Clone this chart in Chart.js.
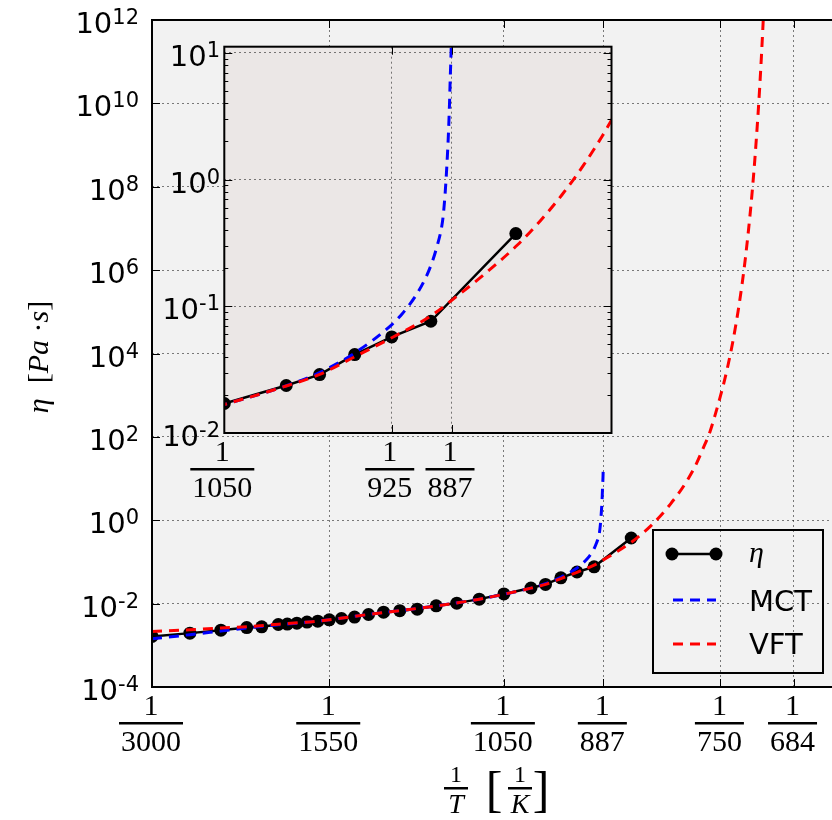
<!DOCTYPE html>
<html>
<head>
<meta charset="utf-8">
<script src="https://cdn.jsdelivr.net/npm/chart.js@4"></script>
<style>
html, body { margin: 0; padding: 0; background: #fff; overflow: hidden; }
#wrap { position: relative; width: 832px; height: 820px; overflow: hidden; }
#main { position: absolute; left: 0; top: 0; }
#inset { position: absolute; left: 130px; top: 30px; }
</style>
</head>
<body>
<div id="wrap">
  <canvas id="main" width="850" height="820"></canvas>
  <canvas id="inset" width="500" height="480"></canvas>
</div>
<script>
'use strict';

// measured viscosity, temperatures in K
const temps = [3000, 2500, 2200, 2000, 1900, 1800, 1750, 1700, 1650, 1600, 1550, 1500, 1450, 1400,
    1350, 1300, 1250, 1200, 1150, 1100, 1050, 1000, 975, 950, 925, 900, 850];
const eta = [0.00163, 0.00196, 0.00231, 0.00267, 0.00278, 0.00316, 0.00323, 0.0034, 0.0036, 0.0038,
    0.00409, 0.0044, 0.00475, 0.00548, 0.00625, 0.00679, 0.00738, 0.00885, 0.01028, 0.01282,
    0.0171, 0.0237, 0.0289, 0.0416, 0.0573, 0.0762, 0.375];

// MCT fit
const mctT = [3000, 2500, 2200, 2000, 1800, 1600, 1400, 1300, 1200, 1100, 1050, 1000, 975, 950,
    924.9, 918.4, 909.9, 903.5, 899.3, 896.2, 893.2, 892.2, 891.1, 890.1, 889.1, 888.5, 888.1,
    887.5, 887.2];
const mctEta = [0.00143, 0.0018, 0.0022, 0.0026, 0.0031, 0.0038, 0.0055, 0.0068, 0.0088, 0.0128,
    0.0168, 0.0236, 0.030, 0.0428, 0.0718, 0.0867, 0.119, 0.165, 0.221, 0.296, 0.430, 0.540,
    0.80, 1.3, 2.4, 4.0, 6.1, 10.7, 16];

// VFT fit
const vftT = [3000, 2500, 2200, 2000, 1800, 1600, 1400, 1300, 1200, 1100, 1050, 1000, 975, 950,
    925, 900, 887, 869, 849, 836.7, 825.2, 814, 804.7, 800.3, 796.1, 785.1, 776.2, 767.5, 760.7,
    755.6, 750.6, 747.4, 742.5, 737.7, 732.9, 729.2, 726, 722, 719.6, 717.5, 714.5, 713, 711.5,
    710, 709];
const vftEta = [0.00215, 0.00235, 0.0026, 0.0028, 0.0032, 0.0038, 0.0055, 0.0068, 0.0088, 0.0128,
    0.0168, 0.0235, 0.029, 0.040, 0.0565, 0.084, 0.112, 0.174, 0.306, 0.472, 0.756, 1.30, 2.19,
    2.89, 3.75, 8.5, 19, 53, 128, 315, 841, 1640, 5300, 2.04e4, 1.03e5, 4.5e5, 2.0e6, 1.84e7,
    8.8e7, 4.2e8, 5.6e9, 2.5e10, 1.33e11, 8.5e11, 3.3e12];

// tick labels (temperatures shown as 1/T) and powers of ten
const mainXTicks = [3000, 1550, 1050, 887, 750, 684];
const mainYTicks = [-4, -2, 0, 2, 4, 6, 8, 10, 12];
const insetXTicks = [1050, 925, 887];
const insetYTicks = [-2, -1, 0, 1];

const seriesNames = ['η', 'MCT', 'VFT'];

const toPoints = (ts, vs) => ts.map((t, i) => ({x: 1 / t, y: vs[i]}));

const makeDatasets = (radius) => [{
    label: seriesNames[0],
    data: toPoints(temps, eta),
    showLine: true,
    borderColor: '#000',
    borderWidth: 2.5,
    pointRadius: radius,
    pointBackgroundColor: '#000',
    pointBorderWidth: 0,
    clip: 0,
    order: 3
}, {
    label: seriesNames[1],
    data: toPoints(mctT, mctEta),
    showLine: true,
    borderColor: '#0000ff',
    borderWidth: 3,
    borderDash: [10, 7],
    pointRadius: 0,
    cubicInterpolationMode: 'monotone',
    clip: 0,
    order: 2
}, {
    label: seriesNames[2],
    data: toPoints(vftT, vftEta),
    showLine: true,
    borderColor: '#ff0000',
    borderWidth: 3,
    borderDash: [10, 7],
    pointRadius: 0,
    cubicInterpolationMode: 'monotone',
    clip: 0,
    order: 1
}];

const SERIF = '"Liberation Serif", "DejaVu Serif", serif';
const SANS = '"DejaVu Sans", sans-serif';

// 1 over n, centred on cx; base is the y of the axis line
const drawFrac = (ctx, den, cx, base) => {
    ctx.font = `30px ${SERIF}`;
    ctx.textAlign = 'center';
    ctx.textBaseline = 'alphabetic';
    ctx.fillText('1', cx, base + 28);
    const w = ctx.measureText(den).width + 4;
    ctx.fillRect(cx - w / 2, base + 35, w, 2.5);
    ctx.fillText(den, cx, base + 64);
};

// 10^exp, right aligned, vertically on y
const drawPow = (ctx, exp, right, y) => {
    ctx.textAlign = 'left';
    ctx.textBaseline = 'alphabetic';
    ctx.font = `21px ${SANS}`;
    const ew = ctx.measureText(exp).width;
    ctx.font = `29px ${SANS}`;
    const bw = ctx.measureText('10').width;
    const x0 = right - ew - bw;
    ctx.fillText('10', x0, y + 13);
    ctx.font = `21px ${SANS}`;
    ctx.fillText(exp, x0 + bw, y + 4);
};

const frame = (bg) => ({
    id: 'frame',
    beforeDraw: (chart) => {
        const {ctx, chartArea: a} = chart;
        ctx.save();
        ctx.fillStyle = bg;
        ctx.fillRect(a.left, a.top, a.right - a.left, a.bottom - a.top);
        ctx.restore();
    },
    afterDraw: (chart) => {
        const {ctx, chartArea: a} = chart;
        ctx.save();
        ctx.strokeStyle = '#000';
        ctx.lineWidth = 2;
        ctx.strokeRect(a.left, a.top, a.right - a.left, a.bottom - a.top);
        ctx.restore();
    }
});

const mainDecor = {
    id: 'mainDecor',
    afterDraw: (chart) => {
        const {ctx, chartArea: a, scales} = chart;
        const x = scales.x, y = scales.y;
        ctx.save();
        ctx.fillStyle = '#000';
        ctx.strokeStyle = '#000';
        ctx.lineWidth = 1;
        // inward ticks
        ctx.beginPath();
        mainXTicks.forEach(t => {
            const px = Math.round(x.getPixelForValue(1 / t)) + 0.5;
            ctx.moveTo(px, a.bottom); ctx.lineTo(px, a.bottom - 8);
            ctx.moveTo(px, a.top); ctx.lineTo(px, a.top + 8);
        });
        mainYTicks.forEach(p => {
            const py = Math.round(y.getPixelForValue(Math.pow(10, p))) + 0.5;
            ctx.moveTo(a.left, py); ctx.lineTo(a.left + 8, py);
        });
        ctx.stroke();
        // tick labels
        mainXTicks.forEach(t => drawFrac(ctx, String(t), x.getPixelForValue(1 / t) - 1, a.bottom));
        mainYTicks.forEach(p => drawPow(ctx, String(p), 139, y.getPixelForValue(Math.pow(10, p))));

        // y axis title
        ctx.save();
        ctx.translate(40, 357);
        ctx.rotate(-Math.PI / 2);
        const parts = [['η', 'italic'], ['\u2002[', ''], ['Pa', 'italic'], ['\u2005·', ''], ['s', 'italic'], [']', '']];
        let total = 0;
        parts.forEach(([s, st]) => { ctx.font = `${st} 30px ${SERIF}`; total += ctx.measureText(s).width; });
        let cx = -total / 2;
        ctx.textAlign = 'left';
        ctx.textBaseline = 'middle';
        parts.forEach(([s, st]) => {
            ctx.font = `${st} 30px ${SERIF}`;
            ctx.fillText(s, cx, 0);
            cx += ctx.measureText(s).width;
        });
        ctx.restore();

        // x axis title: 1/T [1/K]
        const smallFrac = (cx0, den) => {
            ctx.textAlign = 'center';
            ctx.textBaseline = 'alphabetic';
            ctx.font = `24px ${SERIF}`;
            ctx.fillText('1', cx0, 782);
            ctx.fillRect(cx0 - 12, 787, 24, 2.5);
            ctx.font = `italic 28px ${SERIF}`;
            ctx.fillText(den, cx0, 813);
        };
        smallFrac(456, 'T');
        smallFrac(520, 'K');
        ctx.font = `50px ${SERIF}`;
        ctx.textAlign = 'center';
        ctx.fillText('[', 494, 806);
        ctx.fillText(']', 541, 806);

        // legend
        ctx.lineWidth = 2;
        ctx.strokeRect(653, 530, 170, 143);
        ctx.lineWidth = 2.5;
        ctx.beginPath();
        ctx.moveTo(672, 554); ctx.lineTo(716, 554);
        ctx.stroke();
        [672, 716].forEach(px => {
            ctx.beginPath();
            ctx.arc(px, 554, 6.5, 0, Math.PI * 2);
            ctx.fill();
        });
        ctx.lineWidth = 3;
        ctx.setLineDash([10, 7]);
        ctx.strokeStyle = '#0000ff';
        ctx.beginPath(); ctx.moveTo(673, 600); ctx.lineTo(716, 600); ctx.stroke();
        ctx.strokeStyle = '#ff0000';
        ctx.beginPath(); ctx.moveTo(673, 644); ctx.lineTo(716, 644); ctx.stroke();
        ctx.setLineDash([]);
        ctx.textAlign = 'left';
        ctx.textBaseline = 'alphabetic';
        ctx.font = `italic 30px ${SERIF}`;
        ctx.fillText(seriesNames[0], 749, 562);
        ctx.font = `29px ${SANS}`;
        ctx.fillText(seriesNames[1], 749, 611);
        ctx.fillText(seriesNames[2], 749, 654);
        ctx.restore();
    }
};

const insetDecor = {
    id: 'insetDecor',
    afterDraw: (chart) => {
        const {ctx, chartArea: a, scales} = chart;
        const x = scales.x, y = scales.y;
        ctx.save();
        ctx.fillStyle = '#000';
        ctx.strokeStyle = '#000';
        ctx.lineWidth = 1;
        ctx.beginPath();
        insetXTicks.forEach(t => {
            const px = Math.round(x.getPixelForValue(1 / t)) + 0.5;
            ctx.moveTo(px, a.bottom); ctx.lineTo(px, a.bottom - 8);
            ctx.moveTo(px, a.top); ctx.lineTo(px, a.top + 8);
        });
        insetYTicks.forEach(p => {
            for (let k = 1; k <= 9; k++) {
                const v = k * Math.pow(10, p);
                if (v > y.max) break;
                const len = k === 1 ? 8 : 4;
                const py = Math.round(y.getPixelForValue(v)) + 0.5;
                ctx.moveTo(a.left, py); ctx.lineTo(a.left + len, py);
                ctx.moveTo(a.right, py); ctx.lineTo(a.right - len, py);
            }
        });
        ctx.stroke();
        insetXTicks.forEach(t => drawFrac(ctx, String(t), x.getPixelForValue(1 / t) - 2, a.bottom));
        insetYTicks.forEach(p => drawPow(ctx, String(p), 90, y.getPixelForValue(Math.pow(10, p))));
        ctx.restore();
    }
};

const gridOpts = {
    color: 'rgba(0, 0, 0, 0.5)',
    lineWidth: 1,
    drawTicks: false,
    tickLength: 0
};

const makeOptions = (xr, yr, sizes, padding) => ({
    responsive: false,
    devicePixelRatio: 1,
    animation: false,
    layout: {padding: padding},
    plugins: {legend: {display: false}, tooltip: {enabled: false}},
    scales: {
        x: {
            type: 'linear',
            min: xr[0],
            max: xr[1],
            afterBuildTicks: s => { s.ticks = xr[2].map(t => ({value: 1 / t})); },
            afterFit: s => { s.height = sizes[0]; },
            ticks: {display: false},
            grid: gridOpts,
            border: {display: false, dash: [2, 3]}
        },
        y: {
            type: 'logarithmic',
            min: yr[0],
            max: yr[1],
            afterBuildTicks: s => { s.ticks = yr[2].map(p => ({value: Math.pow(10, p)})); },
            afterFit: s => { s.width = sizes[1]; },
            ticks: {display: false},
            grid: gridOpts,
            border: {display: false, dash: [2, 3]}
        }
    }
});

new Chart(document.getElementById('main'), {
    type: 'scatter',
    data: {datasets: makeDatasets(6.5)},
    options: makeOptions([1 / 3000, 1 / 650, mainXTicks], [1e-4, 1e12, mainYTicks], [133, 152],
        {top: 20, right: 13, left: 0, bottom: 0}),
    plugins: [frame('#f2f2f2'), mainDecor]
});

new Chart(document.getElementById('inset'), {
    type: 'scatter',
    data: {datasets: makeDatasets(6.5)},
    options: makeOptions([1 / 1050, 1 / 800, insetXTicks], [0.01, 11.2, insetYTicks], [77, 94.3],
        {top: 16.7, right: 18.5, left: 0, bottom: 0}),
    plugins: [frame('#ebe7e6'), insetDecor]
});
</script>
</body>
</html>
